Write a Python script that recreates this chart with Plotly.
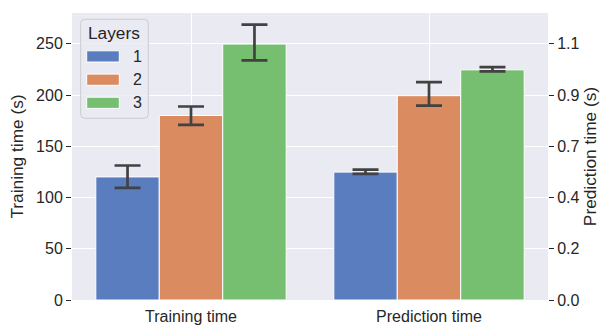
import plotly.graph_objects as go

# Data
categories = ["Training time", "Prediction time"]
layers = ["1", "2", "3"]
colors = ["#597dbf", "#da8b5f", "#76bf71"]

train_mean = [120.1, 180.0, 249.7]
train_ci_low = [109.4, 170.9, 233.7]
train_ci_high = [131.2, 188.8, 268.6]

pred_mean = [0.549, 0.877, 0.988]
pred_ci_low = [0.541, 0.834, 0.981]
pred_ci_high = [0.560, 0.935, 1.000]

left_ticks = [0, 50, 100, 150, 200, 250]
right_ticks = [0.0, 0.22, 0.44, 0.66, 0.88, 1.1]

# Layout geometry (pixels)
W, H = 600, 325
L, R, T, B = 72, 52, 13, 25
PW, PH = W - L - R, H - T - B
Y_MAX = 280
Y2_MAX = Y_MAX * right_ticks[-1] / left_ticks[-1]

TEXT = "#262626"
ERR = "#424242"
FONT = "Liberation Sans, Arial, sans-serif"

bar_w = 0.8 / len(layers)

fig = go.Figure()
for i, name in enumerate(layers):
    off = -0.4 + i * bar_w
    fig.add_trace(go.Bar(
        x=[categories[0]], y=[train_mean[i]], name=name,
        width=bar_w, offset=off,
        marker=dict(color=colors[i], line=dict(color="white", width=1)),
        error_y=dict(type="data", symmetric=False,
                     array=[train_ci_high[i] - train_mean[i]],
                     arrayminus=[train_mean[i] - train_ci_low[i]],
                     color=ERR, thickness=2.7, width=13),
        showlegend=False, yaxis="y",
    ))
    fig.add_trace(go.Bar(
        x=[categories[1]], y=[pred_mean[i]], name=name,
        width=bar_w, offset=off,
        marker=dict(color=colors[i], line=dict(color="white", width=1)),
        error_y=dict(type="data", symmetric=False,
                     array=[pred_ci_high[i] - pred_mean[i]],
                     arrayminus=[pred_mean[i] - pred_ci_low[i]],
                     color=ERR, thickness=2.7, width=13),
        showlegend=False, yaxis="y2",
    ))


def px(x):
    return (x - L) / PW


def py(y):
    return (H - B - y) / PH


def rounded_rect(x0, y0, x1, y1, r):
    pts = [
        f"M {px(x0 + r)} {py(y0)}",
        f"L {px(x1 - r)} {py(y0)}",
        f"Q {px(x1)} {py(y0)} {px(x1)} {py(y0 + r)}",
        f"L {px(x1)} {py(y1 - r)}",
        f"Q {px(x1)} {py(y1)} {px(x1 - r)} {py(y1)}",
        f"L {px(x0 + r)} {py(y1)}",
        f"Q {px(x0)} {py(y1)} {px(x0)} {py(y1 - r)}",
        f"L {px(x0)} {py(y0 + r)}",
        f"Q {px(x0)} {py(y0)} {px(x0 + r)} {py(y0)}",
        "Z",
    ]
    return " ".join(pts)


# Legend box drawn by hand to get wide patch swatches
shapes = [dict(type="path", xref="paper", yref="paper",
               path=rounded_rect(80.7, 19.3, 148.3, 118.3, 4),
               fillcolor="rgba(234,234,242,0.8)",
               line=dict(color="#cccccc", width=1), layer="above")]
annotations = [dict(text="Layers", xref="paper", yref="paper",
                    x=px(113.7), y=py(33.5), showarrow=False,
                    xanchor="center", yanchor="middle",
                    font=dict(size=17.3, color=TEXT, family=FONT))]
sw_centers = [56.4, 79.7, 102.8]
for i, name in enumerate(layers):
    cy = sw_centers[i]
    shapes.append(dict(type="rect", xref="paper", yref="paper",
                       x0=px(86.7), x1=px(119.3),
                       y0=py(cy + 5.6), y1=py(cy - 5.6),
                       fillcolor=colors[i],
                       line=dict(color="white", width=1), layer="above"))
    annotations.append(dict(text=name, xref="paper", yref="paper",
                            x=px(137.5), y=py(cy), showarrow=False,
                            xanchor="center", yanchor="middle",
                            font=dict(size=16, color=TEXT, family=FONT)))

fig.update_layout(
    width=W, height=H,
    margin=dict(l=L, r=R, t=T, b=B, autoexpand=False),
    paper_bgcolor="white", plot_bgcolor="#eaeaf2",
    font=dict(family=FONT, color=TEXT, size=16),
    barmode="overlay",
    shapes=shapes, annotations=annotations,
    xaxis=dict(type="category", categoryorder="array", categoryarray=categories,
               range=[-0.5, 1.5], showgrid=True, gridcolor="white", gridwidth=1.3,
               zeroline=False, showline=False, ticks="", ticklabelstandoff=5,
               tickfont=dict(size=16, color=TEXT)),
    yaxis=dict(range=[0, Y_MAX], tickvals=left_ticks, showgrid=True,
               gridcolor="white", gridwidth=1.3, zeroline=False, showline=False,
               ticks="outside", ticklen=5, tickwidth=1.3, tickcolor=TEXT,
               tickfont=dict(size=16, color=TEXT),
               title=dict(text="Training time (s)", standoff=8,
                          font=dict(size=17.3, color=TEXT))),
    yaxis2=dict(overlaying="y", side="right", range=[0, Y2_MAX],
                tickvals=right_ticks, tickformat=".1f", showgrid=False,
                zeroline=False, showline=False,
                ticks="outside", ticklen=5, tickwidth=1.3, tickcolor=TEXT,
                tickfont=dict(size=16, color=TEXT),
                title=dict(text="Prediction time (s)", standoff=2,
                           font=dict(size=17.3, color=TEXT))),
)

fig.write_html("out.html")
